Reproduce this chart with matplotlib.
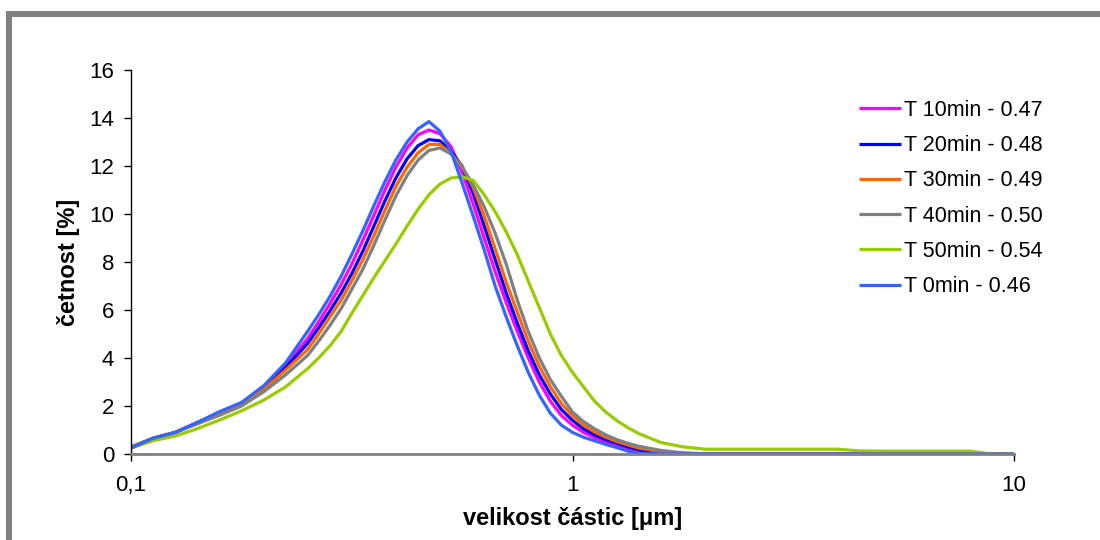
import matplotlib
matplotlib.use("Agg")
import matplotlib.pyplot as plt
from matplotlib.patches import Rectangle
from matplotlib.ticker import NullLocator

plt.rcParams['font.family'] = ['Liberation Sans', 'DejaVu Sans']

# particle sizes (um): log-spaced bins, finer in the peak region
size = [0.1, 0.112, 0.126, 0.141, 0.158, 0.178, 0.2, 0.224,
        0.251, 0.266, 0.282, 0.299, 0.316, 0.335, 0.355, 0.376, 0.398, 0.422,
        0.447, 0.473, 0.501, 0.531, 0.562, 0.596, 0.631, 0.668, 0.708, 0.750,
        0.794, 0.841, 0.891, 0.944, 1.0, 1.059, 1.122, 1.189, 1.259, 1.334, 1.413,
        1.585, 1.778, 1.995, 2.239, 2.512, 2.818, 3.162, 3.548, 3.981, 4.467,
        5.012, 5.623, 6.310, 7.079, 7.943, 8.913, 10.0]

t10 = [0.25, 0.65, 0.9, 1.3, 1.7, 2.1, 2.8, 3.7,
       4.8, 5.5, 6.25, 7.05, 7.9, 8.9, 9.95, 11.0, 11.95, 12.75,
       13.3, 13.5, 13.35, 12.8, 11.75, 10.4, 9.0, 7.6, 6.3, 5.1,
       4.0, 3.0, 2.2, 1.6, 1.2, 0.9, 0.68, 0.5, 0.35, 0.22, 0.12,
       0.03, 0.0, 0.0, 0.0, 0.0, 0.0, 0.0, 0.0, 0.0, 0.0,
       0.0, 0.0, 0.0, 0.0, 0.0, 0.0, 0.0]
t20 = [0.25, 0.65, 0.9, 1.3, 1.7, 2.1, 2.75, 3.6,
       4.6, 5.25, 5.95, 6.7, 7.5, 8.45, 9.5, 10.55, 11.5, 12.3,
       12.85, 13.1, 13.05, 12.6, 12.0, 10.85, 9.5, 8.1, 6.7, 5.45,
       4.3, 3.3, 2.5, 1.85, 1.4, 1.05, 0.8, 0.6, 0.45, 0.3, 0.18,
       0.06, 0.01, 0.0, 0.0, 0.0, 0.0, 0.0, 0.0, 0.0, 0.0,
       0.0, 0.0, 0.0, 0.0, 0.0, 0.0, 0.0]
t30 = [0.3, 0.65, 0.9, 1.3, 1.65, 2.05, 2.7, 3.5,
       4.35, 5.0, 5.7, 6.4, 7.2, 8.1, 9.1, 10.15, 11.15, 11.95,
       12.55, 12.9, 12.9, 12.5, 12.0, 11.1, 9.9, 8.55, 7.15, 5.9,
       4.7, 3.65, 2.8, 2.1, 1.6, 1.2, 0.92, 0.7, 0.52, 0.38, 0.25,
       0.1, 0.03, 0.0, 0.0, 0.0, 0.0, 0.0, 0.0, 0.0, 0.0,
       0.0, 0.0, 0.0, 0.0, 0.0, 0.0, 0.0]
t40 = [0.3, 0.65, 0.9, 1.25, 1.6, 2.0, 2.6, 3.3,
       4.1, 4.7, 5.35, 6.05, 6.85, 7.7, 8.7, 9.75, 10.75, 11.6,
       12.25, 12.65, 12.75, 12.5, 11.95, 11.2, 10.3, 9.2, 7.9, 6.4,
       5.1, 4.0, 3.1, 2.4, 1.75, 1.35, 1.05, 0.8, 0.6, 0.45, 0.32,
       0.15, 0.05, 0.01, 0.0, 0.0, 0.0, 0.0, 0.0, 0.0, 0.0,
       0.0, 0.0, 0.0, 0.0, 0.0, 0.0, 0.0]
t50 = [0.25, 0.55, 0.75, 1.05, 1.4, 1.8, 2.25, 2.8,
       3.55, 4.0, 4.5, 5.1, 5.85, 6.6, 7.35, 8.05, 8.75, 9.5,
       10.2, 10.8, 11.25, 11.5, 11.55, 11.4, 10.8, 10.1, 9.25, 8.3,
       7.2, 6.1, 5.0, 4.1, 3.4, 2.8, 2.2, 1.75, 1.4, 1.1, 0.85,
       0.48, 0.3, 0.2, 0.2, 0.2, 0.2, 0.2, 0.2, 0.2, 0.13,
       0.12, 0.12, 0.12, 0.12, 0.12, 0.0, 0.0]
t0 = [0.25, 0.65, 0.9, 1.3, 1.75, 2.15, 2.85, 3.8,
      5.1, 5.8, 6.55, 7.4, 8.3, 9.3, 10.35, 11.35, 12.25, 13.0,
      13.55, 13.85, 13.45, 12.6, 11.3, 9.9, 8.5, 7.0, 5.7, 4.5,
      3.4, 2.45, 1.7, 1.2, 0.9, 0.7, 0.55, 0.4, 0.27, 0.12, 0.02,
      0.0, 0.0, 0.0, 0.0, 0.0, 0.0, 0.0, 0.0, 0.0, 0.0,
      0.0, 0.0, 0.0, 0.0, 0.0, 0.0, 0.0]

labels = ["T 10min - 0.47", "T 20min - 0.48", "T 30min - 0.49",
          "T 40min - 0.50", "T 50min - 0.54", "T 0min - 0.46"]
colors = ["#FF00FF", "#0000FF", "#FF6600", "#808080", "#99CC00", "#3366FF"]
data = [t10, t20, t30, t40, t50, t0]

yticks = [0, 2, 4, 6, 8, 10, 12, 14, 16]
xticks = [0.1, 1, 10]
xticklabels = ["0,1", "1", "10"]

W, H = 1100, 540
fig = plt.figure(figsize=(W / 100, H / 100), dpi=100)
ax = fig.add_axes([131 / W, 1 - 454 / H, (1014 - 131) / W, (454 - 70) / H])

for label, vals, col in zip(labels, data, colors):
    ax.plot(size, vals, color=col, lw=2.3, label=label,
            solid_joinstyle='round', solid_capstyle='butt')

ax.set_xscale('log')
ax.set_xlim(0.1, 10)
ax.set_ylim(0, 16)
ax.set_xticks(xticks)
ax.set_xticklabels(xticklabels)
ax.xaxis.set_minor_locator(NullLocator())
ax.set_yticks(yticks)

for s in ['top', 'right']:
    ax.spines[s].set_visible(False)
ax.spines['left'].set_color('black')
ax.spines['left'].set_linewidth(1.0)
ax.spines['bottom'].set_color('#808080')
ax.spines['bottom'].set_linewidth(2.0)
ax.tick_params(axis='both', direction='out', length=5, width=1, color='black',
               labelsize=16, pad=7)
ax.tick_params(axis='x', pad=10)

ax.set_xlabel("velikost částic [μm]", fontsize=17, fontweight='bold')
ax.set_ylabel("četnost [%]", fontsize=17, fontweight='bold')
ax.xaxis.set_label_coords(0.5, -0.138)
ax.yaxis.set_label_coords(-0.058, 0.5)

leg = ax.legend(loc='upper left', bbox_to_anchor=(859 / W, 1 - 100 / H),
                bbox_transform=fig.transFigure, frameon=False, fontsize=15.5,
                handlelength=1.95, handletextpad=0.15, labelspacing=0.66,
                borderaxespad=0, borderpad=0)

# gray frame (top and left)
fig.add_artist(Rectangle((6 / W, 1 - 16.7 / H), 1 - 6 / W, 5.7 / H,
                         transform=fig.transFigure, color='#808080', lw=0))
fig.add_artist(Rectangle((6 / W, 0), 5.7 / W, 1 - 11 / H,
                         transform=fig.transFigure, color='#808080', lw=0))

fig.savefig("out.png", dpi=100)
